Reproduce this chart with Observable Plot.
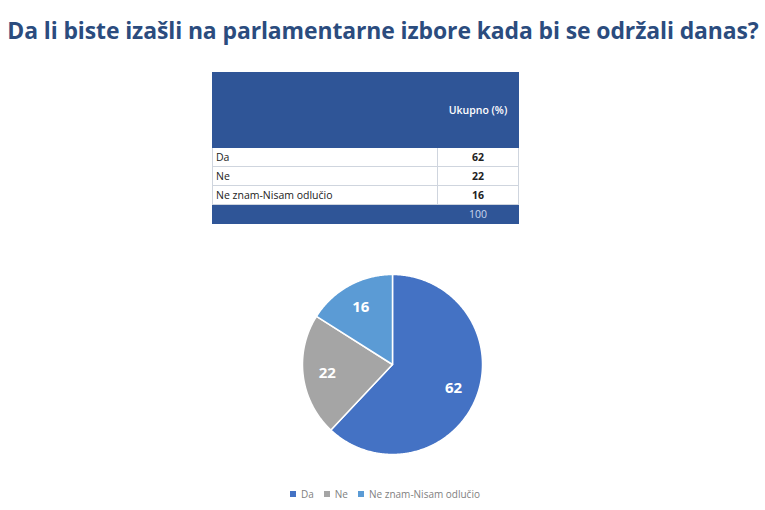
<!DOCTYPE html>
<html>
<head>
<meta charset="utf-8">
<script src="https://cdn.jsdelivr.net/npm/d3@7"></script>
<script src="https://cdn.jsdelivr.net/npm/@observablehq/plot@0.6"></script>
<style>
  html, body { margin: 0; padding: 0; background: #fff; }
  body { width: 765px; height: 510px; position: relative; overflow: hidden; font-family: "Open Sans", sans-serif; }
  #title { position: absolute; left: 382.5px; top: 13px; white-space: nowrap; transform: translateX(-50%) scaleX(0.955); font-family: "Open Sans", sans-serif; font-weight: 700; font-size: 24px; color: #2B4C7E; letter-spacing: -0.1px; }
  #tbl { position: absolute; left: 212px; top: 72px; border-collapse: collapse; font-family: "Open Sans", sans-serif; font-size: 10.5px; color: #222; }
  #tbl td { border: 1px solid #cfd5de; padding: 0 3px; height: 18px; }
  #tbl tr.head td { background: #2F5597; color: #fff; height: 74px; border-color: #2F5597; }
  #tbl tr.head td:last-child { border-left: 1px solid #8ea9d6; text-align: center; font-weight: 600; font-size: 10.5px; }
  #tbl tr.foot td { background: #2F5597; color: #c9d6ee; height: 18px; border-color: #2F5597; text-align: center; }
  #tbl tr.foot td:last-child { border-left: 1px solid #8ea9d6; }
  #tbl td.v { text-align: center; font-weight: 700; }
  #pie { position: absolute; left: 0; top: 0; }
  #legend { position: absolute; left: 0; width: 780px; top: 477px; display: flex; justify-content: center; }
</style>
</head>
<body>
<div id="title"></div>
<table id="tbl"></table>
<div id="pie"></div>
<div id="legend"></div>
<script>
const title = "Da li biste izašli na parlamentarne izbore kada bi se održali danas?";
const categories = ["Da", "Ne", "Ne znam-Nisam odlučio"];
const values = [62, 22, 16];
const total = 100;
const colHeader = "Ukupno (%)";
const colors = ["#4472C4", "#A5A5A5", "#5B9BD5"];

document.getElementById("title").textContent = title;

// Table
const tbl = document.getElementById("tbl");
let html = `<tr class="head"><td style="width:218px"></td><td style="width:74px">${colHeader}</td></tr>`;
categories.forEach((c, i) => {
  html += `<tr><td>${c}</td><td class="v">${values[i]}</td></tr>`;
});
html += `<tr class="foot"><td></td><td>${total}</td></tr>`;
tbl.innerHTML = html;

// Pie geometry
const pie = d3.pie().sort(null).value(d => d.value);
const rows = categories.map((c, i) => ({label: c, value: values[i]}));
const arcs = pie(rows);
const pt = (a, r) => [r * Math.sin(a), -r * Math.cos(a)];
const features = arcs.map(a => {
  const ring = [[0, 0]];
  const n = Math.max(2, Math.ceil((a.endAngle - a.startAngle) / 0.01));
  for (let k = 0; k <= n; k++) ring.push(pt(a.startAngle + (a.endAngle - a.startAngle) * k / n, 1));
  ring.push([0, 0]);
  return {type: "Feature", properties: {label: a.data.label, value: a.data.value}, geometry: {type: "Polygon", coordinates: [ring]}};
});
const labels = arcs.map(a => {
  const m = (a.startAngle + a.endAngle) / 2;
  const [x, y] = pt(m, 0.73);
  return {x, y, text: String(a.data.value)};
});
const outline = {type: "Polygon", coordinates: [[...d3.range(0, 361, 2).map(d => pt(d * Math.PI / 180, 1))]]};

const plot = Plot.plot({
  width: 765,
  height: 510,
  marginLeft: 302,
  marginRight: 765 - 482,
  marginTop: 274,
  marginBottom: 510 - 454,
  projection: {type: "identity", domain: outline},
  color: {domain: categories, range: colors},
  style: {background: "transparent"},
  marks: [
    Plot.geo(features, {fill: d => d.properties.label, stroke: "white", strokeWidth: 1.5}),
    Plot.text(labels, {x: "x", y: "y", text: "text", fill: "white", fontSize: 15, fontWeight: "bold", fontFamily: "Open Sans"})
  ]
});
document.getElementById("pie").appendChild(plot);

const legend = plot.legend("color", {swatchSize: 6, swatchWidth: 6, swatchHeight: 6, style: {fontSize: "10px", color: "#7f7f7f", fontFamily: "Open Sans"}});
document.getElementById("legend").appendChild(legend);
</script>
</body>
</html>
